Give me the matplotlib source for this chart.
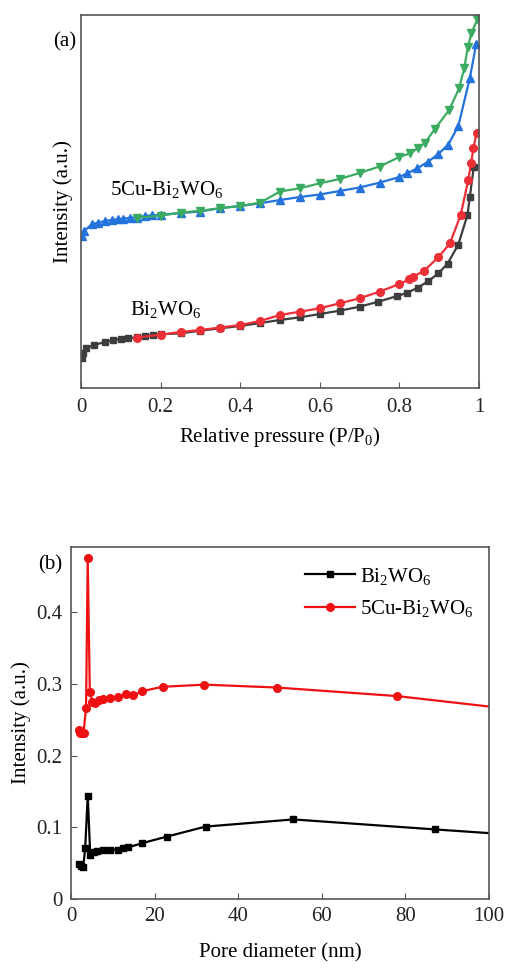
import matplotlib
matplotlib.use("Agg")
import matplotlib.pyplot as plt
from matplotlib.ticker import FuncFormatter

plt.rcParams['font.family'] = ['Liberation Serif', 'DejaVu Serif']
plt.rcParams['mathtext.fontset'] = 'custom'
plt.rcParams['mathtext.rm'] = 'Liberation Serif'
plt.rcParams['mathtext.it'] = 'Liberation Serif'
plt.rcParams['font.size'] = 15

# (a) N2 isotherms, arbitrary units
cu_ads_p = [0.003, 0.008, 0.027, 0.042, 0.06, 0.077, 0.092, 0.106, 0.123, 0.14, 0.161,
            0.178, 0.20, 0.25, 0.30, 0.35, 0.40, 0.45, 0.50, 0.55, 0.60, 0.65, 0.70,
            0.75, 0.80, 0.82, 0.845, 0.872, 0.898, 0.923, 0.948, 0.977, 0.993]
cu_ads_q = [152, 157, 163.7, 165.3, 167, 168, 168.7, 169.3, 170.3, 170.5, 172,
            172.7, 173, 175, 176.5, 180, 182, 184.7, 188, 191, 193.5, 197, 200.5,
            205.3, 211, 214.7, 219.7, 226.3, 234, 243.5, 262, 310, 344]
cu_des_p = [0.996, 0.981, 0.972, 0.963, 0.950, 0.925, 0.889, 0.864, 0.847, 0.827, 0.80,
            0.75, 0.70, 0.65, 0.60, 0.55, 0.50, 0.45, 0.40, 0.35, 0.30, 0.25, 0.20, 0.14]
cu_des_q = [369, 354.7, 341.3, 319.7, 299.7, 278, 259, 245, 240, 234.7, 231,
            221.5, 215, 209, 204.7, 199.7, 196.5, 185.3, 182, 179.7, 177.3, 175.3, 172.5, 170]

bw_ads_p = [0.002, 0.006, 0.012, 0.033, 0.06, 0.081, 0.10, 0.119, 0.14, 0.161, 0.182,
            0.20, 0.25, 0.30, 0.35, 0.40, 0.45, 0.50, 0.55, 0.60, 0.65, 0.70, 0.747,
            0.795, 0.82, 0.847, 0.873, 0.898, 0.921, 0.948, 0.971, 0.977, 0.987]
bw_ads_q = [30, 35, 40, 43, 46, 48, 49, 49.7, 50.7, 51.7, 53,
            53.7, 54.7, 57.3, 59.7, 62, 65, 68, 70.7, 74, 77.3, 81.3, 86.3,
            92, 95.3, 100.5, 107, 114.7, 124.3, 143.5, 173, 191.3, 221.3]
bw_des_p = [0.994, 0.986, 0.980, 0.973, 0.954, 0.927, 0.898, 0.862, 0.835, 0.825, 0.80,
            0.75, 0.70, 0.65, 0.60, 0.55, 0.50, 0.45, 0.40, 0.35, 0.30, 0.25, 0.20, 0.14]
bw_des_q = [255.3, 239.7, 224.7, 208, 173, 144.7, 130.7, 117.3, 111.3, 108.7, 104,
            96.3, 89.7, 84.7, 79.7, 76.3, 73, 67, 63, 60.5, 58, 56, 53.3, 50.5]

# (b) pore size distribution
bw_d = [1.9, 2.4, 2.9, 3.4, 4.0, 4.6, 5.4, 6.3, 7.7, 9.3, 11.3, 12.5, 13.7, 17.1,
        22.9, 32.2, 53.2, 87.2, 140]
bw_i = [0.049, 0.046, 0.044, 0.071, 0.144, 0.062, 0.065, 0.067, 0.068, 0.069, 0.069,
        0.071, 0.072, 0.078, 0.087, 0.101, 0.111, 0.097, 0.076]
cu_d = [1.8, 2.2, 2.6, 3.0, 3.6, 4.0, 4.5, 5.1, 5.8, 6.6, 7.6, 9.3, 11.3, 13.2, 14.9,
        17.1, 21.9, 31.9, 49.2, 78.1, 140]
cu_i = [0.236, 0.232, 0.231, 0.232, 0.266, 0.475, 0.289, 0.275, 0.274, 0.277, 0.279,
        0.281, 0.282, 0.286, 0.284, 0.290, 0.296, 0.299, 0.295, 0.283, 0.242]

fmt = FuncFormatter(lambda v, pos: '%g' % v)
spine_col = '#555555'

fig = plt.figure(figsize=(5.08, 9.69), dpi=100)

# ---- panel (a)
ax1 = fig.add_axes([81 / 508, 1 - 388 / 969, 398 / 508, 373 / 969])
ax1.plot(cu_ads_p, cu_ads_q, color='#2472dc', marker='^', ms=6, lw=1.6, label='5Cu-Bi2WO6 ads')
ax1.plot(cu_des_p, cu_des_q, color='#3bab62', marker='v', ms=6, lw=1.6, label='5Cu-Bi2WO6 des')
ax1.plot(bw_ads_p, bw_ads_q, color='#3d3d3d', marker='s', ms=5, lw=1.6, label='Bi2WO6 ads')
ax1.plot(bw_des_p, bw_des_q, color='#ec2f36', marker='o', ms=5.5, lw=1.6, label='Bi2WO6 des')
ax1.set_xlim(0, 1)
ax1.set_ylim(0, 373)
ax1.set_xticks([0, 0.2, 0.4, 0.6, 0.8, 1])
ax1.xaxis.set_major_formatter(fmt)
ax1.set_yticks([])
ax1.tick_params(axis='x', direction='in', length=4, pad=7, color=spine_col, labelcolor='#222222')
ax1.set_xlabel('Relative pressure (P/P$_0$)', labelpad=6)
ax1.set_ylabel('Intensity (a.u.)', labelpad=6)
ax1.text(0.073, 198, '5Cu-Bi$_2$WO$_6$', va='center', ha='left')
ax1.text(0.123, 78, 'Bi$_2$WO$_6$', va='center', ha='left')
for s in ax1.spines.values():
    s.set_color(spine_col)
    s.set_linewidth(1.2)
fig.text(65 / 508, 1 - 42 / 969, '(a)', ha='center', va='center')

# ---- panel (b)
ax2 = fig.add_axes([71 / 508, 1 - 899 / 969, 418 / 508, 352 / 969])
ax2.plot(bw_d, bw_i, color='black', marker='s', ms=5, lw=1.6, label='Bi$_2$WO$_6$')
ax2.plot(cu_d, cu_i, color='#ee1111', marker='o', ms=5.5, lw=1.6, label='5Cu-Bi$_2$WO$_6$')
ax2.set_xlim(0, 100)
ax2.set_ylim(0, 0.491)
ax2.set_xticks([0, 20, 40, 60, 80, 100])
ax2.set_yticks([0, 0.1, 0.2, 0.3, 0.4])
ax2.xaxis.set_major_formatter(fmt)
ax2.yaxis.set_major_formatter(fmt)
ax2.tick_params(direction='in', length=4, pad=6, color=spine_col, labelcolor='#222222')
ax2.set_xlabel('Pore diameter (nm)', labelpad=12)
ax2.set_ylabel('Intensity (a.u.)', labelpad=4)
for s in ax2.spines.values():
    s.set_color(spine_col)
    s.set_linewidth(1.2)
ax2.legend(loc='upper left', bbox_to_anchor=(0.56, 0.947), frameon=False,
           borderpad=0, borderaxespad=0, handlelength=2.4, handletextpad=0.25,
           labelspacing=0.55)
fig.text(50 / 508, 1 - 565 / 969, '(b)', ha='center', va='center')

fig.savefig('out.png', dpi=100)
